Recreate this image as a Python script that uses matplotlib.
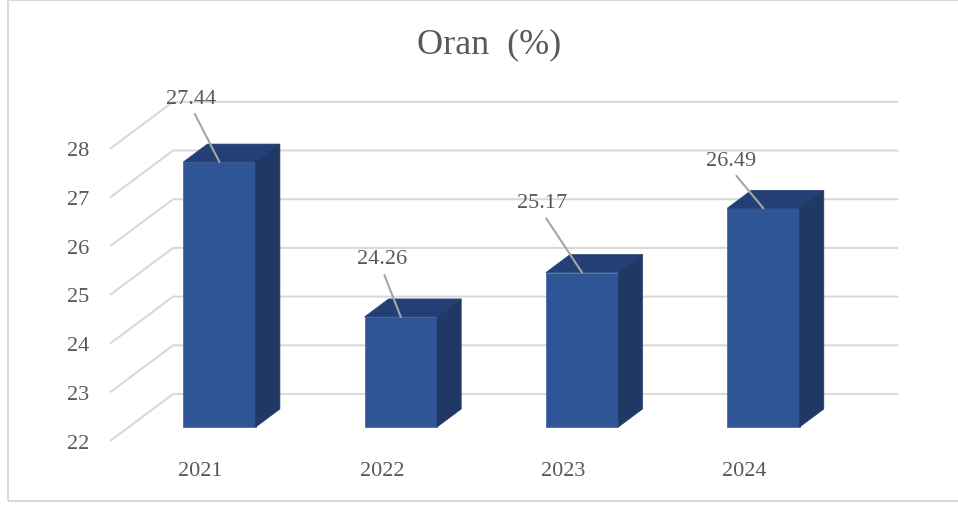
import matplotlib
matplotlib.use('Agg')
import matplotlib.pyplot as plt
from matplotlib.patches import Polygon, Rectangle

years = ['2021', '2022', '2023', '2024']
values = [27.44, 24.26, 25.17, 26.49]
yticks = [22, 23, 24, 25, 26, 27, 28]
title = 'Oran  (%)'

# label placement (pixels from bar top), picked by eye
label_offsets = [(-28, 64), (-19, 58), (-40, 70), (-32, 48)]

FRONT = '#2F5597'
TOP = '#243F75'
SIDE = '#1F3864'
GRID = '#D9D9D9'
TEXT = '#595959'
FONT = 'Liberation Serif'

W, H, DPI = 958, 506, 100
PX_X = 181.3   # px per category
PX_Y = 48.7    # px per value unit
X0_PX, Y22_PX = 219.5, 428

# depth vector (full depth) in data units
DX = 63 / PX_X
DY = 47 / PX_Y
T_FRONT, T_BACK, T_WALL = -0.298, 0.383, 0.702
BASE = 22
BW = 0.40

fig = plt.figure(figsize=(W / DPI, H / DPI), dpi=DPI)
ax = fig.add_axes([0, 0, 1, 1])
ax.set_xlim(-X0_PX / PX_X, (W - X0_PX) / PX_X)
ax.set_ylim(BASE - (H - Y22_PX) / PX_Y, BASE + Y22_PX / PX_Y)
ax.axis('off')

# walls / gridlines
for v in yticks:
    xs = [-0.5 + T_FRONT * DX, -0.5 + T_WALL * DX, 3.5 + T_WALL * DX]
    ys = [v + T_FRONT * DY, v + T_WALL * DY, v + T_WALL * DY]
    ax.plot(xs, ys, color=GRID, lw=1.5, zorder=1, solid_capstyle='butt')
    ax.annotate(str(v), (xs[0], ys[0]), xytext=(-21, -2), textcoords='offset pixels',
                ha='right', va='center', fontsize=16, color=TEXT, family=FONT)

xpos = list(range(len(years)))
ax.bar(xpos, [v - BASE for v in values], bottom=BASE, width=BW, color=FRONT,
       edgecolor='#4A6DAA', linewidth=0.6, zorder=3)

dx, dy = T_BACK * DX, T_BACK * DY
for x, v in zip(xpos, values):
    l, r = x - BW / 2, x + BW / 2
    ax.add_patch(Polygon([(l, v), (r, v), (r + dx, v + dy), (l + dx, v + dy)],
                         closed=True, facecolor=TOP, edgecolor=TOP, lw=0.5, zorder=3))
    ax.add_patch(Polygon([(r, BASE), (r, v), (r + dx, v + dy), (r + dx, BASE + dy)],
                         closed=True, facecolor=SIDE, edgecolor=SIDE, lw=0.5, zorder=3))

for x, v, (ox, oy) in zip(xpos, values, label_offsets):
    ax.annotate(f'{v:.2f}', (x, v), xytext=(ox, oy), textcoords='offset pixels',
                ha='center', va='center', fontsize=16, color=TEXT, family=FONT, zorder=5,
                arrowprops=dict(arrowstyle='-', color='#A6A6A6', lw=1.5,
                                shrinkA=3, shrinkB=0, relpos=(0.5, 0)))

for x, yr in zip(xpos, years):
    ax.annotate(yr, (x + T_FRONT * DX, BASE + T_FRONT * DY), xytext=(0, -29),
                textcoords='offset pixels', ha='center', va='center',
                fontsize=16, color=TEXT, family=FONT)

fig.text(489 / W, 1 - 45 / H, title, ha='center', va='center', fontsize=26,
         color=TEXT, family=FONT)

fig.patches.append(Rectangle((8 / W, 1 - 502 / H), 1, 501 / H, transform=fig.transFigure,
                             fill=False, edgecolor=GRID, lw=1.5, zorder=0))

fig.savefig('out.png', dpi=DPI)
